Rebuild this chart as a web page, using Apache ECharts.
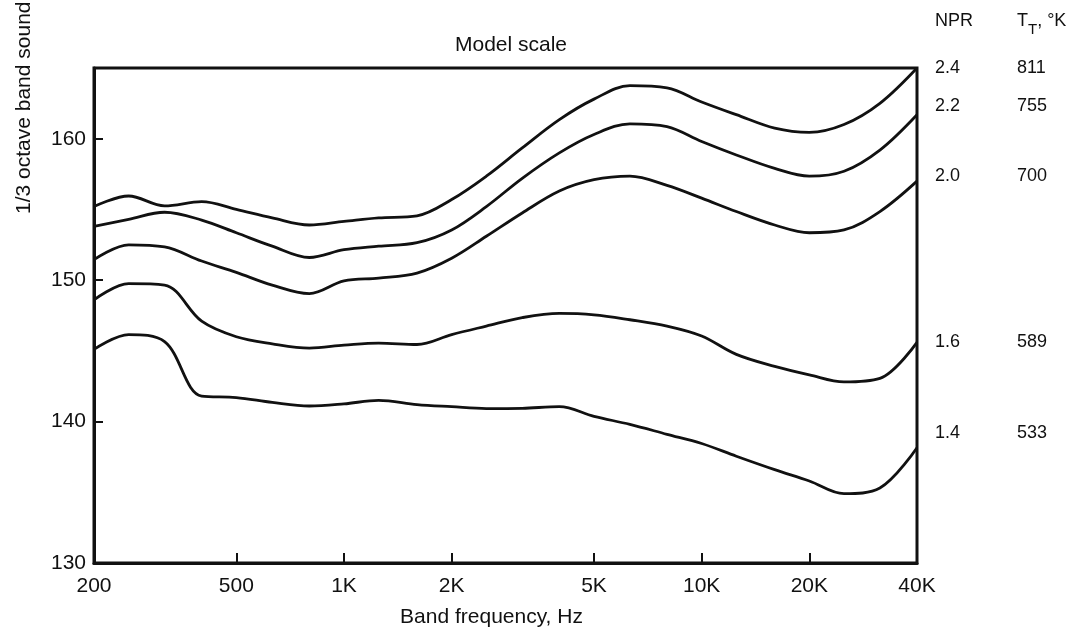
<!DOCTYPE html>
<html>
<head>
<meta charset="utf-8">
<title>Model scale</title>
<script src="https://cdn.jsdelivr.net/npm/echarts/dist/echarts.min.js"></script>
<style>
  html, body { margin: 0; padding: 0; background: #fff; }
  #chart { width: 1078px; height: 633px; }
</style>
</head>
<body>
<div id="chart"></div>
<script>
// 1/3 octave band centre frequencies, Hz
var freqs = [200, 250, 315, 400, 500, 630, 800, 1000, 1250, 1600, 2000, 2500,
  3150, 4000, 5000, 6300, 8000, 10000, 12500, 16000, 20000, 25000, 31500, 40000];

// sound pressure level, dB, one array per curve
var npr24 = [155.2, 155.95, 155.25, 155.55, 155.0, 154.4, 153.9, 154.15, 154.4, 154.55, 155.7, 157.35,
  159.35, 161.35, 162.8, 163.75, 163.6, 162.6, 161.7, 160.75, 160.45, 161.0, 162.5, 165.0];
var npr22 = [153.8, 154.3, 154.8, 154.25, 153.35, 152.4, 151.6, 152.15, 152.4, 152.65, 153.55, 155.2,
  157.2, 159.0, 160.3, 161.05, 160.85, 159.8, 158.85, 157.9, 157.35, 157.7, 159.2, 161.7];
var npr20 = [151.45, 152.5, 152.35, 151.35, 150.55, 149.65, 149.05, 149.95, 150.15, 150.5, 151.55, 153.1,
  154.75, 156.3, 157.1, 157.35, 156.7, 155.8, 154.85, 153.9, 153.35, 153.55, 154.85, 157.0];
var npr16 = [148.6, 149.75, 149.65, 147.1, 146.0, 145.5, 145.2, 145.4, 145.55, 145.45, 146.15, 146.75,
  147.35, 147.65, 147.55, 147.2, 146.75, 146.05, 144.75, 143.9, 143.3, 142.8, 143.05, 145.6];
var npr14 = [145.1, 146.15, 145.65, 141.8, 141.7, 141.35, 141.1, 141.25, 141.5, 141.2, 141.05, 140.92,
  140.94, 141.05, 140.37, 139.8, 139.1, 138.45, 137.55, 136.6, 135.8, 134.9, 135.3, 138.15];

// curve labels at the right: NPR and T_T
var nprLabels = ['2.4', '2.2', '2.0', '1.6', '1.4'];
var ttLabels = ['811', '755', '700', '589', '533'];
var curves = [npr24, npr22, npr20, npr16, npr14];

// axis ticks and labels
var xLabelValues = [200, 500, 1000, 2000, 5000, 10000, 20000, 40000];
var xTickValues = [500, 1000, 2000, 5000, 10000, 20000];

var font = 'Liberation Sans, Arial, sans-serif';
var ink = '#111';
// small vertical nudges so each label sits where the original one does
var labelShift = [0, -9, -5, 0, -15];

var series = curves.map(function (vals, i) {
    return {
        name: nprLabels[i],
        type: 'line',
        data: freqs.map(function (f, k) { return [f, vals[k]]; }),
        showSymbol: false,
        smooth: 0.35,
        lineStyle: { color: ink, width: 2.8 },
        endLabel: {
            show: true,
            distance: 18,
            offset: [0, labelShift[i]],
            formatter: '{a|' + nprLabels[i] + '}{b|' + ttLabels[i] + '}',
            rich: {
                a: { width: 82, fontSize: 18, fontFamily: font, color: ink },
                b: { fontSize: 18, fontFamily: font, color: ink }
            }
        }
    };
});

var chart = echarts.init(document.getElementById('chart'), null, { renderer: 'canvas' });

chart.setOption({
    animation: false,
    backgroundColor: '#fff',
    grid: {
        left: 94, right: 161, top: 68, bottom: 70,
        show: true, borderColor: ink, borderWidth: 3
    },
    xAxis: {
        type: 'log',
        logBase: 10,
        min: 200,
        max: 40000,
        name: 'Band frequency, Hz',
        nameLocation: 'middle',
        nameGap: 44,
        nameTextStyle: { fontSize: 21, fontFamily: font, color: ink, padding: [0, 28, 0, 0] },
        axisLine: { lineStyle: { color: ink, width: 3 } },
        axisTick: { inside: true, length: 10, customValues: xTickValues, lineStyle: { color: ink, width: 2 } },
        axisLabel: {
            customValues: xLabelValues,
            margin: 13,
            fontSize: 21, fontFamily: font, color: ink,
            formatter: function (v) { return v >= 1000 ? (v / 1000) + 'K' : String(v); }
        },
        splitLine: { show: false },
        minorTick: { show: false }
    },
    yAxis: {
        type: 'value',
        min: 130,
        max: 165,
        interval: 10,
        axisLine: { show: true, lineStyle: { color: ink, width: 3 } },
        axisTick: { show: true, inside: true, length: 9, lineStyle: { color: ink, width: 2 } },
        axisLabel: { showMaxLabel: false, margin: 8, fontSize: 21, fontFamily: font, color: ink },
        splitLine: { show: false }
    },
    graphic: [
        {
            type: 'text', x: 511, y: 45,
            style: { text: 'Model scale', fontSize: 21, fontFamily: font, fill: ink, align: 'center', verticalAlign: 'middle' }
        },
        {
            type: 'text', left: 935, top: 12,
            style: { text: 'NPR', fontSize: 18, fontFamily: font, fill: ink }
        },
        {
            type: 'text', left: 1017, top: 12,
            style: {
                text: '{n|T}{s|T}{n|, °K}',
                rich: {
                    n: { fontSize: 18, fontFamily: font, fill: ink, verticalAlign: 'top' },
                    s: { fontSize: 15, fontFamily: font, fill: ink, padding: [10, 0, 0, 0], verticalAlign: 'top' }
                }
            }
        },
        {
            type: 'text', x: 24, y: 214, rotation: Math.PI / 2,
            style: {
                text: '1/3 octave band sound pressure level, dB',
                fontSize: 21, fontFamily: font, fill: ink,
                align: 'left', verticalAlign: 'middle'
            }
        }
    ],
    series: series
});
</script>
</body>
</html>
